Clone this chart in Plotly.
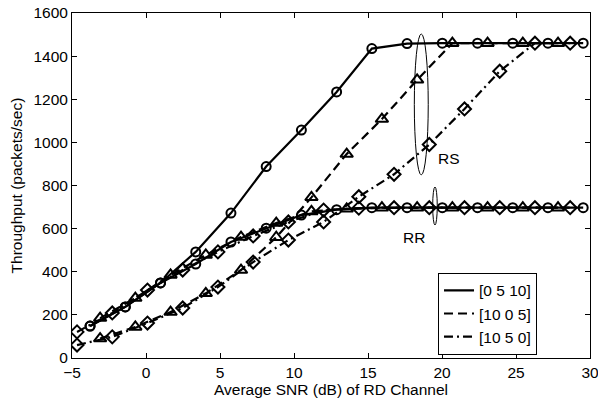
import plotly.graph_objects as go

# SNR positions (dB) for each marker family
x_circ = [-3.78, -1.40, 0.98, 3.36, 5.74, 8.12, 10.50, 12.88, 15.26, 17.64, 20.02, 22.40, 24.78, 27.16, 29.54]
x_tri = [-3.10, -0.72, 1.66, 4.04, 6.42, 8.80, 11.18, 13.56, 15.94, 18.32, 20.70, 23.08, 25.46, 27.84]
x_dia = [-4.66, -2.28, 0.10, 2.48, 4.86, 7.24, 9.62, 12.00, 14.38, 16.76, 19.14, 21.52, 23.90, 26.28, 28.66]

# RS throughput (packets/sec)
rs_0510 = [148, 237, 348, 492, 672, 888, 1057, 1234, 1435, 1458, 1460, 1460, 1460, 1460, 1460]
rs_1005 = [90, 144, 213, 300, 408, 560, 745, 946, 1108, 1290, 1460, 1460, 1460, 1460]
rs_1050 = [60, 98, 162, 232, 329, 445, 547, 631, 748, 852, 990, 1155, 1330, 1460, 1460]

# RR throughput (packets/sec)
rr_0510 = [148, 237, 348, 436, 538, 602, 663, 688, 697, 697, 697, 697, 697, 697, 697]
rr_1005 = [185, 278, 385, 478, 561, 626, 680, 692, 697, 697, 697, 697, 697, 697]
rr_1050 = [121, 209, 315, 408, 492, 566, 631, 686, 695, 697, 697, 697, 697, 697, 697]

legend_names = ["[0 5 10]", "[10 0 5]", "[10 5 0]"]

FONT = "Liberation Sans, Arial, Helvetica, sans-serif"
FS = 15.5
dash_s = "solid"
dash_d = "9px,5px"
dash_dd = "9px,4px,2px,4px"

fig = go.Figure()

def add(x, y, dash, symbol, size):
    fig.add_trace(go.Scatter(
        x=x, y=y, mode="lines+markers", showlegend=False,
        line=dict(color="black", width=2.2, dash=dash),
        marker=dict(symbol=symbol, size=size, color="black",
                    line=dict(color="black", width=2)),
    ))

add(x_circ, rr_0510, dash_s, "circle-open", 9)
add(x_tri, rr_1005, dash_d, "triangle-up-open", 11)
add(x_dia, rr_1050, dash_dd, "diamond-open", 10)
add(x_circ, rs_0510, dash_s, "circle-open", 9)
add(x_tri, rs_1005, dash_d, "triangle-up-open", 11)
add(x_dia, rs_1050, dash_dd, "diamond-open", 10)

for name, dash in zip(legend_names, [dash_s, dash_d, dash_dd]):
    fig.add_trace(go.Scatter(
        x=[None], y=[None], mode="lines", name=name,
        line=dict(color="black", width=2.2, dash=dash),
    ))

# ellipses grouping RS and RR curves
fig.add_shape(type="circle", xref="x", yref="y",
              x0=18.13, x1=19.07, y0=849, y1=1503,
              line=dict(color="black", width=1))
fig.add_shape(type="circle", xref="x", yref="y",
              x0=19.37, x1=19.68, y0=617, y1=793,
              line=dict(color="black", width=1))

fig.add_annotation(x=20.5, y=923, text="RS", showarrow=False,
                   font=dict(family=FONT, size=FS, color="black"))
fig.add_annotation(x=18.1, y=561, text="RR", showarrow=False,
                   font=dict(family=FONT, size=FS, color="black"))

axis_common = dict(
    showline=True, linecolor="black", linewidth=1, mirror="ticks",
    ticks="inside", ticklen=5, tickcolor="black", tickwidth=1,
    showgrid=False, zeroline=False, automargin=False,
    ticklabeloverflow="allow",
    tickfont=dict(family=FONT, size=FS, color="black"),
)

fig.update_layout(
    width=598, height=406,
    margin=dict(l=72, r=8, t=13, b=48),
    paper_bgcolor="white", plot_bgcolor="white",
    font=dict(family=FONT, size=FS, color="black"),
    xaxis=dict(range=[-5, 30], tickvals=[-5, 0, 5, 10, 15, 20, 25, 30],
               ticktext=["\u22125", "0", "5", "10", "15", "20", "25", "30"],
               title=dict(text="Average SNR (dB) of RD Channel", standoff=2,
                          font=dict(family=FONT, size=FS, color="black")),
               **axis_common),
    yaxis=dict(range=[0, 1600], tickvals=list(range(0, 1601, 200)),
               title=dict(text="Throughput (packets/sec)", standoff=6,
                          font=dict(family=FONT, size=FS, color="black")),
               **axis_common),
    legend=dict(x=0.7066, y=0.247, xanchor="left", yanchor="top",
                bgcolor="white", bordercolor="black", borderwidth=1,
                font=dict(family=FONT, size=FS, color="black"),
                tracegroupgap=0, itemwidth=30),
)

fig.write_html("out.html",
               config={"displayModeBar": False, "staticPlot": True},
               post_script="document.body.style.margin='0px';"
                           "document.body.style.overflow='hidden';")
